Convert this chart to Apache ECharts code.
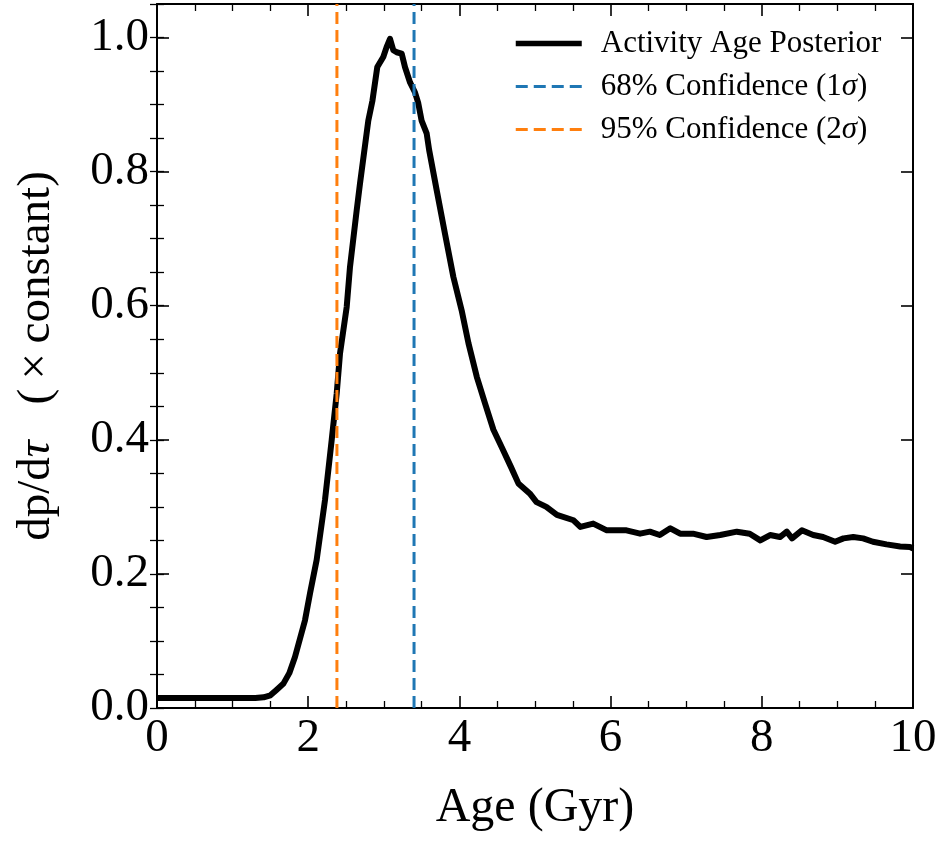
<!DOCTYPE html>
<html>
<head>
<meta charset="utf-8">
<script src="https://cdn.jsdelivr.net/npm/echarts@6/dist/echarts.min.js"></script>
<style>html,body{margin:0;padding:0;background:#fff}#c{width:940px;height:842px}</style>
</head>
<body>
<div id="c"></div>
<script>
// ---- data ----
const ages = [0, 0.5, 1.0, 1.3, 1.41, 1.5, 1.58, 1.67, 1.75, 1.825, 1.958, 2.024, 2.112, 2.222, 2.311, 2.377, 2.421, 2.509, 2.553, 2.641, 2.685, 2.795, 2.85, 2.914, 2.993, 3.038, 3.082, 3.126, 3.17, 3.237, 3.28, 3.347, 3.413, 3.456, 3.50, 3.567, 3.60, 3.70, 3.81, 3.92, 4.03, 4.12, 4.23, 4.34, 4.45, 4.56, 4.68, 4.78, 4.93, 5.02, 5.15, 5.29, 5.51, 5.60, 5.77, 5.95, 6.21, 6.39, 6.52, 6.65, 6.79, 6.92, 7.09, 7.27, 7.45, 7.67, 7.84, 7.98, 8.11, 8.24, 8.33, 8.40, 8.53, 8.68, 8.81, 8.97, 9.08, 9.21, 9.34, 9.47, 9.65, 9.83, 9.96, 10.0];
const posterior = [0.015, 0.015, 0.015, 0.015, 0.016, 0.019, 0.027, 0.036, 0.052, 0.076, 0.131, 0.171, 0.221, 0.31, 0.40, 0.469, 0.529, 0.598, 0.658, 0.742, 0.782, 0.876, 0.906, 0.956, 0.971, 0.986, 0.998, 0.981, 0.978, 0.976, 0.956, 0.933, 0.918, 0.902, 0.876, 0.857, 0.832, 0.772, 0.707, 0.643, 0.593, 0.544, 0.494, 0.454, 0.415, 0.389, 0.360, 0.335, 0.320, 0.307, 0.300, 0.288, 0.280, 0.270, 0.275, 0.265, 0.265, 0.260, 0.263, 0.258, 0.268, 0.260, 0.260, 0.255, 0.258, 0.263, 0.260, 0.250, 0.258, 0.255, 0.263, 0.253, 0.265, 0.258, 0.255, 0.248, 0.253, 0.255, 0.253, 0.248, 0.244, 0.241, 0.240, 0.238];
const sigma1Age = 3.40;  // 68% confidence
const sigma2Age = 2.38;  // 95% confidence
const seriesNames = ['Activity Age Posterior', '68% Confidence (1σ)', '95% Confidence (2σ)'];
const xMin = 0, xMax = 10, xStep = 2;
const yMin = 0, yMax = 1.05, yStep = 0.2, yMinorStep = 0.05;

const FONT = 'Liberation Serif';
const chart = echarts.init(document.getElementById('c'), null, {renderer: 'canvas'});
const curve = ages.map((a, i) => [a, posterior[i]]);
const vline = a => [[a, yMin], [a, yMax]];

const majorTick = {show: true, inside: true, length: 12, lineStyle: {color: '#000', width: 1.6}};
const minorTick = {show: true, inside: true, length: 7, lineStyle: {color: '#000', width: 1.3}};
const axisLine = {show: true, onZero: false, lineStyle: {color: '#000', width: 2}};

const option = {
  animation: false,
  backgroundColor: '#fff',
  grid: {left: 157, right: 27, top: 4, bottom: 134, containLabel: false},
  xAxis: [
    {type: 'value', position: 'bottom', min: xMin, max: xMax, interval: xStep,
     axisLine, axisTick: majorTick,
     minorTick: {show: true, splitNumber: 4, length: 7, lineStyle: {color: '#000', width: 1.3}},
     splitLine: {show: false}, minorSplitLine: {show: false},
     axisLabel: {color: '#000', fontFamily: FONT, fontSize: 47, margin: 7},
     name: 'Age (Gyr)', nameLocation: 'middle', nameGap: 76,
     nameTextStyle: {color: '#000', fontFamily: FONT, fontSize: 48}},
    {type: 'value', position: 'top', min: xMin, max: xMax, interval: xStep,
     axisLine, axisTick: majorTick,
     minorTick: {show: true, splitNumber: 4, length: 7, lineStyle: {color: '#000', width: 1.3}},
     splitLine: {show: false}, axisLabel: {show: false}}
  ],
  yAxis: [
    {type: 'value', position: 'left', min: yMin, max: yMax, interval: yStep,
     axisLine, axisTick: majorTick, splitLine: {show: false},
     axisLabel: {color: '#000', fontFamily: FONT, fontSize: 47, margin: 8, showMaxLabel: false,
                 formatter: v => v.toFixed(1)},
     name: 'dp/d{i|τ}{sp| }(\u2009×\u2009constant)', nameLocation: 'middle', nameGap: 97,
     nameTextStyle: {color: '#000', fontFamily: FONT, fontSize: 47,
                     rich: {i: {fontStyle: 'italic', fontFamily: FONT, fontSize: 47, color: '#000'},
                            sp: {fontFamily: FONT, fontSize: 47, width: 36}}}},
    {type: 'value', position: 'left', min: yMin, max: yMax, interval: yMinorStep,
     axisLine: {show: false}, axisTick: minorTick, splitLine: {show: false}, axisLabel: {show: false}},
    {type: 'value', position: 'right', min: yMin, max: yMax, interval: yStep,
     axisLine, axisTick: majorTick, splitLine: {show: false}, axisLabel: {show: false}},
    {type: 'value', position: 'right', min: yMin, max: yMax, interval: yMinorStep,
     axisLine: {show: false}, axisTick: minorTick, splitLine: {show: false}, axisLabel: {show: false}}
  ],
  legend: {
    show: true, orient: 'vertical', left: 508, top: 23, itemGap: 12,
    itemWidth: 66, itemHeight: 14,
    itemStyle: {opacity: 0, color: 'rgba(0,0,0,0)', borderWidth: 0},
    textStyle: {color: '#000', fontFamily: FONT, fontSize: 31, lineHeight: 31, padding: [0, 0, 0, 14],
                rich: {i: {fontStyle: 'italic', fontFamily: FONT, fontSize: 31, color: '#000'}}},
    formatter: n => n.replace('σ', '{i|σ}'),
    data: [
      {name: seriesNames[0], lineStyle: {width: 5.5}},
      {name: seriesNames[1], lineStyle: {width: 3}},
      {name: seriesNames[2], lineStyle: {width: 3}}
    ]
  },
  series: [
    {name: seriesNames[0], type: 'line', data: curve, showSymbol: false, symbol: 'none',
     lineStyle: {color: '#000', width: 6, join: 'round'}, itemStyle: {color: '#000'}, z: 2},
    {name: seriesNames[1], type: 'line', data: vline(sigma1Age), showSymbol: false, symbol: 'none',
     lineStyle: {color: '#1f77b4', width: 3, type: [12, 6]}, itemStyle: {color: '#1f77b4'}, z: 3},
    {name: seriesNames[2], type: 'line', data: vline(sigma2Age), showSymbol: false, symbol: 'none',
     lineStyle: {color: '#ff7f0e', width: 3, type: [12, 6]}, itemStyle: {color: '#ff7f0e'}, z: 3}
  ]
};
chart.setOption(option);
</script>
</body>
</html>
